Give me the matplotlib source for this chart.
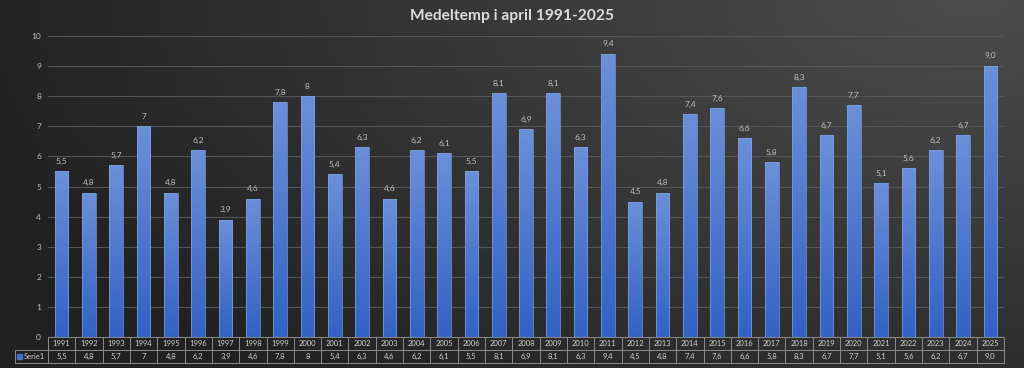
import numpy as np
import matplotlib
matplotlib.use("Agg")
import matplotlib.pyplot as plt
from matplotlib.transforms import blended_transform_factory
from matplotlib.colors import LinearSegmentedColormap

years = [str(y) for y in range(1991, 2026)]
values = [5.5, 4.8, 5.7, 7, 4.8, 6.2, 3.9, 4.6, 7.8, 8, 5.4, 6.3, 4.6, 6.2, 6.1, 5.5,
          8.1, 6.9, 8.1, 6.3, 9.4, 4.5, 4.8, 7.4, 7.6, 6.6, 5.8, 8.3, 6.7, 7.7, 5.1,
          5.6, 6.2, 6.7, 9.0]
labels = ["5,5", "4,8", "5,7", "7", "4,8", "6,2", "3,9", "4,6", "7,8", "8", "5,4", "6,3",
          "4,6", "6,2", "6,1", "5,5", "8,1", "6,9", "8,1", "6,3", "9,4", "4,5", "4,8",
          "7,4", "7,6", "6,6", "5,8", "8,3", "6,7", "7,7", "5,1", "5,6", "6,2", "6,7", "9,0"]
series_name = "Serie1"
title = "Medeltemp i april 1991-2025"

plt.rcParams["font.family"] = ["Lato", "DejaVu Sans"]

W, H = 1024, 368
fig = plt.figure(figsize=(W / 100, H / 100), dpi=100)

# background gradient
bg = fig.add_axes([0, 0, 1, 1], zorder=-10)
yy, xx = np.mgrid[0:1:200j, 0:1:500j]
d = np.sqrt((xx - 0.95) ** 2 + (yy ** 2) * 0.5)
g = 0.30 - 0.17 * np.clip(d, 0, 1)
bg.imshow(np.dstack([g, g, g]), extent=[0, 1, 0, 1], aspect="auto", origin="upper")
bg.set_axis_off()

left, right = 48 / W, 1004 / W
bottom, top = 1 - 337 / H, 1 - 36 / H
ax = fig.add_axes([left, bottom, right - left, top - bottom])
ax.patch.set_alpha(0)
x = np.arange(len(years))
bars = ax.bar(x, values, width=0.5, color="none", edgecolor="none", zorder=3)
ax.set_yticks(range(0, 11))
ax.tick_params(axis="y", colors="#bfbfbf", labelsize=6, length=0, pad=5)
ax.set_xticks([])
for s in ax.spines.values():
    s.set_visible(False)
ax.grid(axis="y", color="#555555", linewidth=0.8, zorder=0)

cmap = LinearSegmentedColormap.from_list("b", ["#3262c4", "#6b8fd9"])
grad = np.linspace(0, 1, 100).reshape(-1, 1)
for b in bars:
    bx, bw, bh = b.get_x(), b.get_width(), b.get_height()
    im = ax.imshow(grad, cmap=cmap, extent=[bx, bx + bw, 0, bh], origin="lower",
                   aspect="auto", zorder=3)
    im.set_clip_path(b)
    ax.add_patch(plt.Rectangle((bx, 0), bw, bh, fill=False, edgecolor="#7f9fe0",
                               linewidth=0.5, zorder=4))
ax.set_aspect("auto")
ax.set_xlim(-0.5, len(years) - 0.5)
ax.set_ylim(0, 10)

for xi, v, lab in zip(x, values, labels):
    ax.text(xi, v + 0.22, lab, ha="center", va="bottom", color="#bfbfbf", fontsize=6, zorder=5)

fig.text(0.5, 1 - 16 / H, title, ha="center", va="center", color="#dcdcdc",
         fontsize=11.2, fontweight="bold")

# data table
tr = blended_transform_factory(ax.transData, fig.transFigure)
r0, r1, r2 = 1 - 337 / H, 1 - 350 / H, 1 - 363 / H
lc = "#8c8c8c"
n = len(years)
for r in (r0, r1, r2):
    ax.plot([-0.5, n - 0.5], [r, r], transform=tr, color=lc, lw=0.7, clip_on=False)
for i in range(n + 1):
    ax.plot([i - 0.5, i - 0.5], [r0, r2], transform=tr, color=lc, lw=0.7, clip_on=False)
for i, (yr, lab) in enumerate(zip(years, labels)):
    ax.text(i, (r0 + r1) / 2, yr, transform=tr, ha="center", va="center",
            color="#d0d0d0", fontsize=5.5)
    ax.text(i, (r1 + r2) / 2, lab, transform=tr, ha="center", va="center",
            color="#d0d0d0", fontsize=5.5)
# legend cell
lx0 = 15 / W
fig.add_artist(plt.Line2D([lx0, left], [r1, r1], color=lc, lw=0.7))
fig.add_artist(plt.Line2D([lx0, left], [r2, r2], color=lc, lw=0.7))
fig.add_artist(plt.Line2D([lx0, lx0], [r1, r2], color=lc, lw=0.7))
fig.add_artist(plt.Rectangle((17 / W, (r1 + r2) / 2 - 2.5 / H), 5 / W, 5 / H,
                             color="#4472c4", transform=fig.transFigure))
fig.text(24 / W, (r1 + r2) / 2, series_name, ha="left", va="center",
         color="#d0d0d0", fontsize=5.5)

fig.savefig("out.png", dpi=100)
